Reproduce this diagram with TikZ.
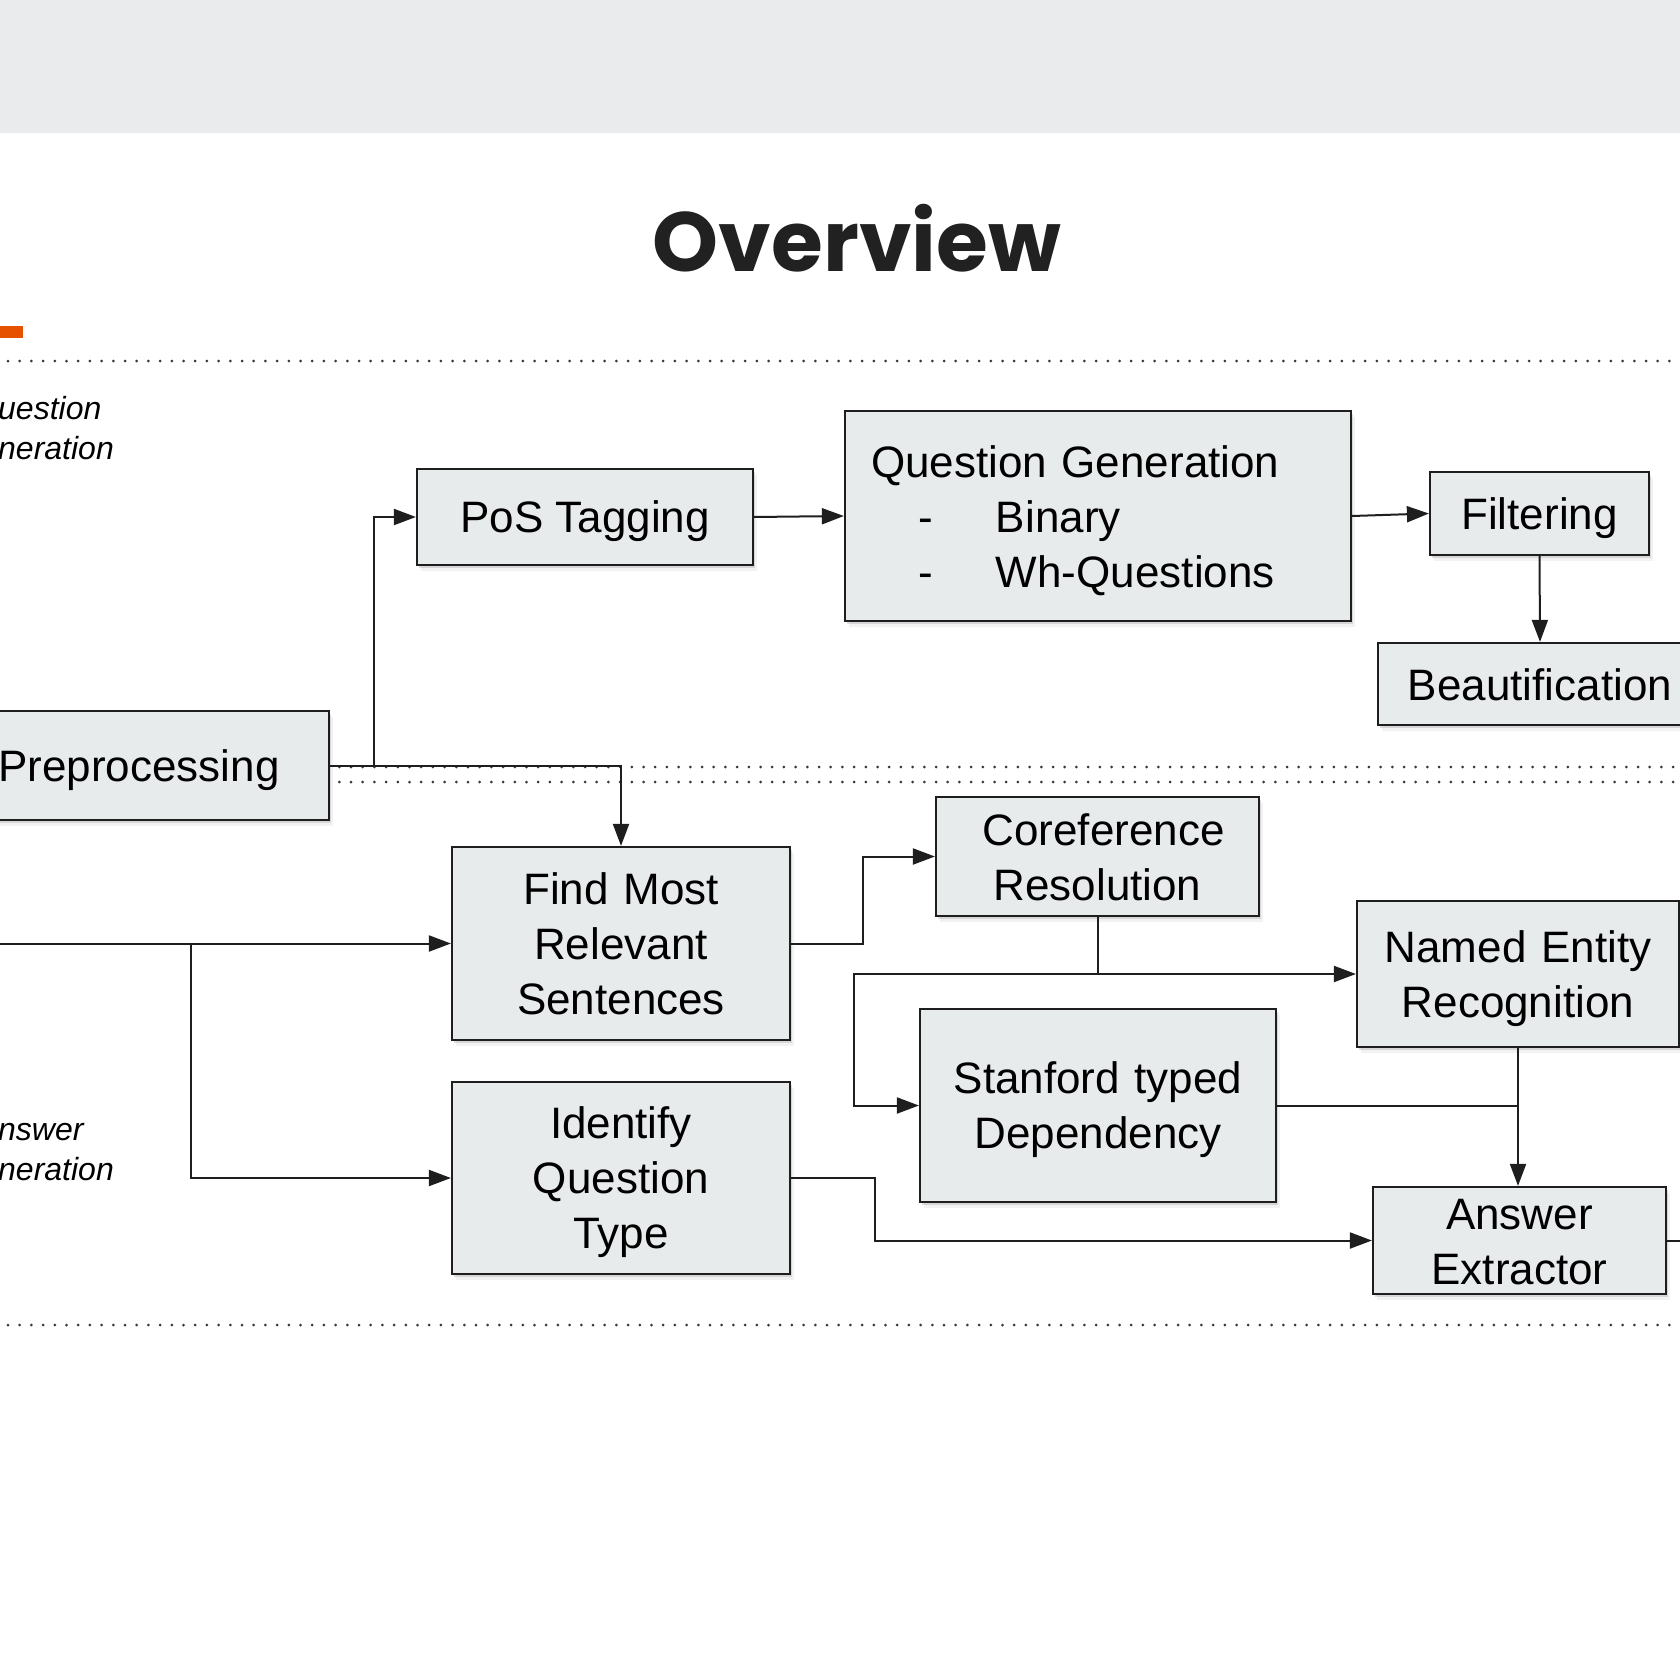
\documentclass[tikz,border=0pt]{standalone}
\usepackage{fontspec}
\setmainfont{Liberation Sans}
\newfontfamily\titlefont{Poppins}
\usetikzlibrary{arrows.meta,shadows,calc}
\definecolor{bandgray}{RGB}{233,235,236}
\definecolor{boxgray}{RGB}{232,235,236}
\definecolor{inkdark}{RGB}{30,30,30}
\definecolor{slideorange}{RGB}{230,81,0}
\tikzset{
  stage/.style={draw=inkdark, line width=2.2pt, fill=boxgray, text=black,
    font=\fontsize{44}{55}\selectfont, align=center, inner sep=0pt,
    execute at begin node={\rule{0pt}{41pt}},
    execute at end node={\rule[-9pt]{0pt}{9pt}},
    drop shadow={shadow xshift=2pt, shadow yshift=-3pt, opacity=0.25},
    drop shadow={shadow xshift=4pt, shadow yshift=-6pt, opacity=0.1}},
  stack/.style={text width=#1},
  stack/.default=280pt,
  flow/.style={draw=inkdark, line width=2pt},
  flowarr/.style={flow, -{Triangle[length=22pt,width=16pt]}},
  divider/.style={draw=black!78, line width=3pt, line cap=round,
    dash pattern=on 0pt off 11.7pt},
  side/.style={font=\fontsize{32}{40}\selectfont\itshape, anchor=base west,
    align=left, inner sep=0pt}
}

\begin{document}
\begin{tikzpicture}[x=1pt,y=-1pt]
  \useasboundingbox (0,0) rectangle (1680,1680);
  \clip (0,0) rectangle (1680,1680);

  % slide header
  \fill[bandgray] (0,0) rectangle (1680,133);
  \node[font=\titlefont\bfseries\fontsize{84}{94}\selectfont, text=black!87,
    anchor=base] (title) at (857,271) {Overview};
  \fill[slideorange] (0,325.5) rectangle (23,338);

  % dotted separators
  \draw[divider] (8,361) -- (1680,361);
  \draw[divider] (0,767) -- (1680,767);
  \draw[divider] (0,782) -- (1680,782);
  \draw[divider] (8,1325) -- (1680,1325);

  % side labels (base = last line)
  \node[side] (qside) at (-2,459) {uestion\\neration};
  \node[side] (aside) at (-2,1180) {nswer\\neration};

  % stages
  \node[stage, minimum width=380pt, minimum height=109pt] (prep) at (139,765.5) {Preprocessing};
  \node[stage, minimum width=336pt, minimum height=96pt] (pos) at (585,517) {PoS Tagging};
  \node[stage, minimum width=506pt, minimum height=210pt, text width=454pt, align=left]
    (qgen) at (1098,516) {Question Generation\\
    \makebox[125pt][l]{\hspace*{47pt}-}Binary\\
    \makebox[125pt][l]{\hspace*{47pt}-}Wh-Questions};
  \node[stage, minimum width=219pt, minimum height=83pt] (filt) at (1539.5,513.5) {Filtering};
  \node[stage, minimum width=324pt, minimum height=82pt] (beau) at (1540,684) {Beautification};
  \node[stage, stack, minimum width=338pt, minimum height=193pt] (find) at (621,943.5) {Find Most\\Relevant\\Sentences};
  \node[stage, stack, minimum width=338pt, minimum height=192pt] (qtype) at (621,1178) {Identify\\Question\\Type};
  \node[stage, stack, minimum width=323pt, minimum height=119pt] (coref) at (1097.5,856.5) {\hspace*{12pt}Coreference\\Resolution};
  \node[stage, stack=310pt, minimum width=356pt, minimum height=193pt] (dep) at (1098,1105.5) {Stanford typed\\Dependency};
  \node[stage, stack, minimum width=322pt, minimum height=146pt] (ner) at (1518,974) {Named Entity\\Recognition};
  \node[stage, stack, minimum width=293pt, minimum height=107pt] (ans) at (1519.5,1240.5) {Answer\\Extractor};

  % connectors
  \coordinate (src) at (0,943.5);
  \coordinate (fork) at (191,943.5);
  \coordinate (exit) at (1680,1240.5);
  \draw[flowarr] (prep.east) -- ++(44,0) |- (pos.west);
  \draw[flowarr] (prep.east) -| (find.north);
  \draw[flowarr] (pos.east) -- (qgen.west);
  \draw[flowarr] (qgen.east) -- (filt.west);
  \draw[flowarr] (filt.south) -- (beau.north);
  \draw[flowarr] (src) -- (find.west);
  \draw[flowarr] (fork) |- (qtype.west);
  \draw[flowarr] (find.east) -- ++(72,0) |- (coref.west);
  \coordinate (corej) at (coref.south |- ner.west);
  \draw[flowarr] (coref.south) |- (ner.west);
  \draw[flowarr] (corej) -| ([xshift=-65pt]dep.west) -- (dep.west);
  \draw[flow] (dep.east) -- (dep.east -| ner.south);
  \draw[flowarr] (ner.south) -- (ner.south |- ans.north);
  \draw[flowarr] (qtype.east) -- ++(84,0) |- (ans.west);
  \draw[flow] (ans.east) -- (exit);
\end{tikzpicture}
\end{document}
